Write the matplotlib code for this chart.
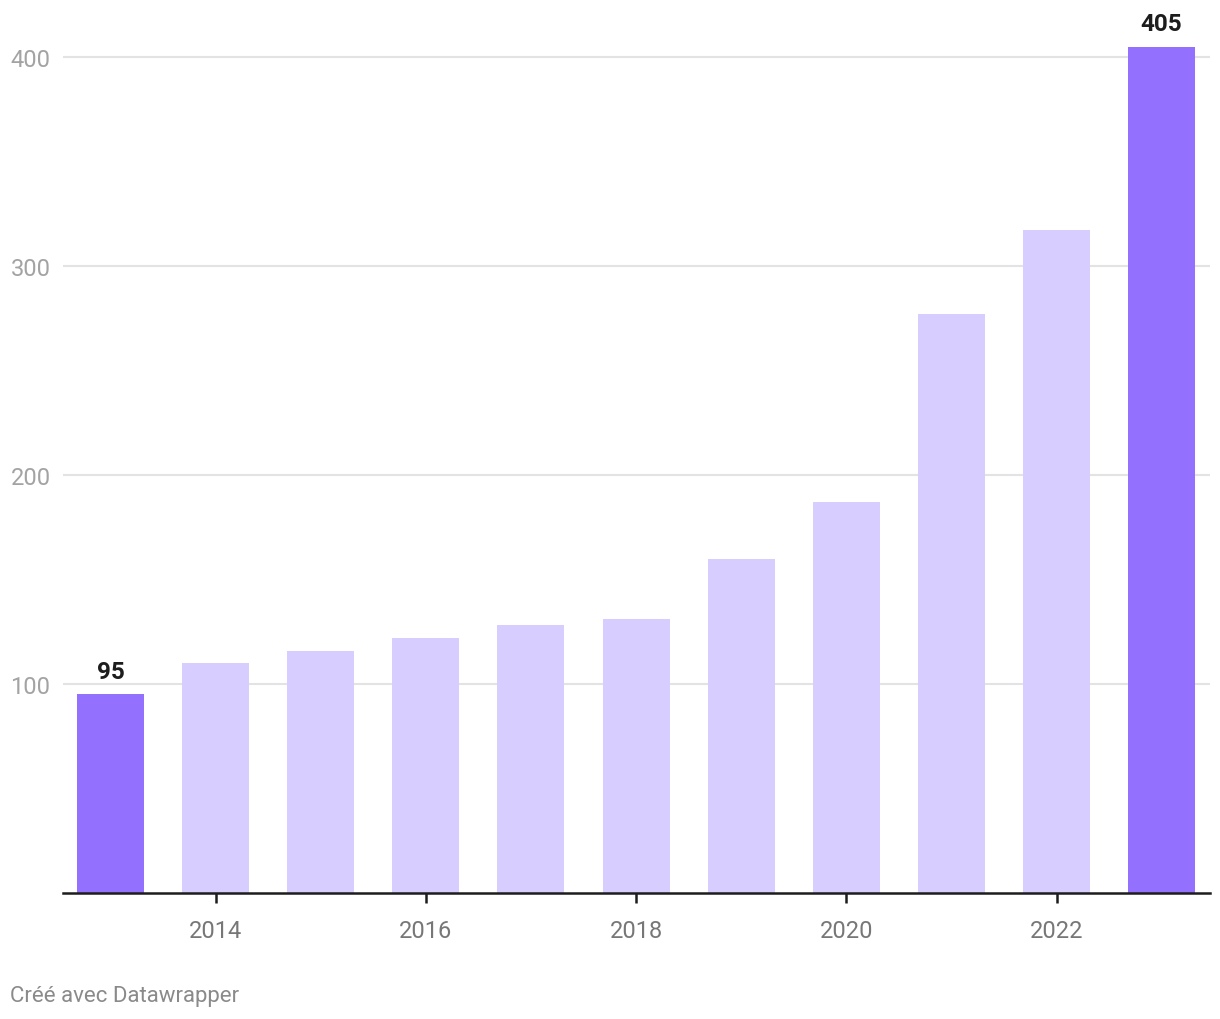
import matplotlib.pyplot as plt

plt.rcParams["font.family"] = ["Roboto", "DejaVu Sans"]

# data
annees = [2013, 2014, 2015, 2016, 2017, 2018, 2019, 2020, 2021, 2022, 2023]
valeurs = [95, 110, 116, 122, 128, 131, 160, 187, 277, 317, 405]
annees_marquees = [2013, 2023]
ticks_x = [2014, 2016, 2018, 2020, 2022]
ticks_y = [100, 200, 300, 400]

FONCE = "#9470ff"
CLAIR = "#d8cdff"

fig = plt.figure(figsize=(12.2, 10.2), dpi=100)
ax = fig.add_axes([63 / 1220, 126 / 1020, 1147 / 1220, 873 / 1020])

couleurs = [FONCE if a in annees_marquees else CLAIR for a in annees]
ax.bar(annees, valeurs, width=0.637, color=couleurs, zorder=2)

for a, v in zip(annees, valeurs):
    if a in annees_marquees:
        ax.annotate(str(v), (a, v), xytext=(0, 8), textcoords="offset points",
                    ha="center", va="bottom", fontsize=17.5, fontweight="bold",
                    color="#1d1d1d")

ax.set_xlim(2012.548, 2023.46)
ax.set_ylim(0, 417.7)

for y in ticks_y:
    ax.axhline(y, color="#e3e3e3", lw=1.5, zorder=1)

ax.set_yticks(ticks_y)
ax.tick_params(axis="y", length=0, pad=9, labelsize=17, labelcolor="#a3a3a3")
ax.set_xticks(ticks_x)
ax.tick_params(axis="x", length=7, width=1.8, color="#1d1d1d", pad=12,
               labelsize=17, labelcolor="#777777")

for side in ["top", "right", "left"]:
    ax.spines[side].set_visible(False)
ax.spines["bottom"].set_color("#1d1d1d")
ax.spines["bottom"].set_linewidth(1.8)
ax.spines["bottom"].set_zorder(3)

fig.text(10 / 1220, 1 - 997 / 1020, "Créé avec Datawrapper", ha="left", va="center",
         fontsize=16, color="#8a8a8a")

fig.savefig("out.png", dpi=100)
